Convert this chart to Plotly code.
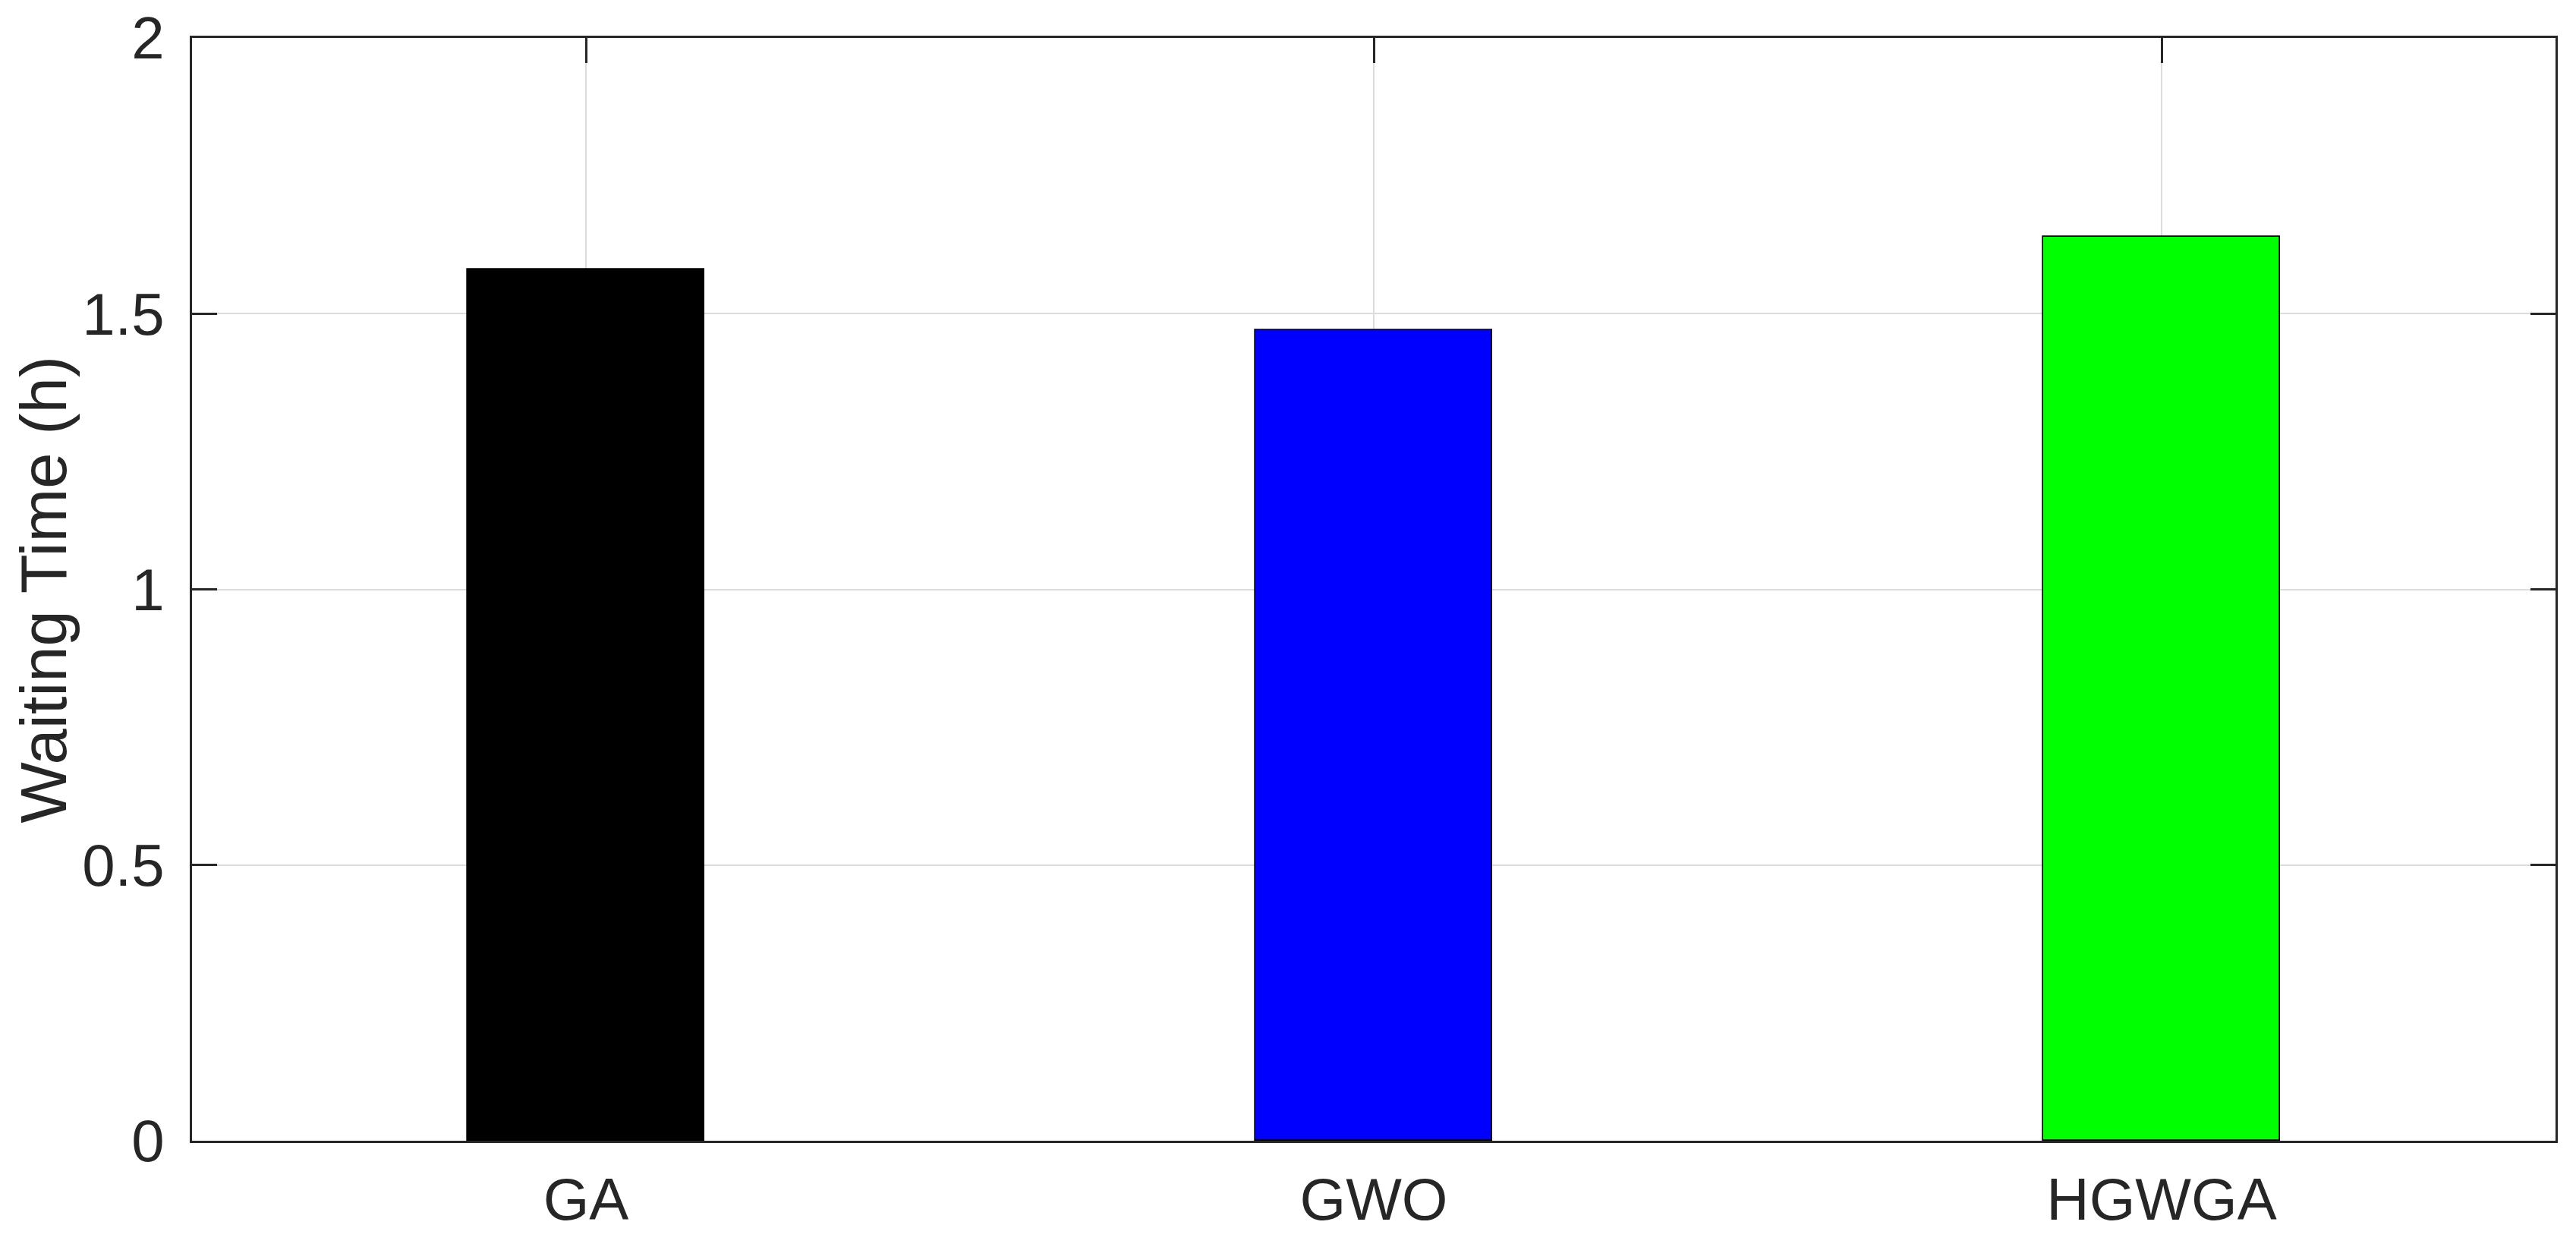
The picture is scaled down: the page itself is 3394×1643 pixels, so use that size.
import plotly.graph_objects as go

categories = ["GA", "GWO", "HGWGA"]
waiting_time = [1.58, 1.47, 1.64]
bar_colors = ["#000000", "#0000ff", "#00ff00"]
y_ticks = [0, 0.5, 1, 1.5, 2]
y_tick_text = ["0", "0.5", "1", "1.5", "2"]

# page has an 8px body margin, so the figure is shifted by 8px
OFF = 8
W, H = 3394 - 2 * OFF, 1643 - 2 * OFF
ML, MT = 253 - OFF, 50 - OFF
MR = (OFF + W) - 3367
MB = (OFF + H) - 1503
axis_col = "#262626"
font_fam = "Liberation Sans, Arial, Helvetica, sans-serif"

fig = go.Figure()
fig.add_trace(go.Bar(
    x=categories, y=waiting_time, width=0.3,
    marker=dict(color=bar_colors, line=dict(color="#000000", width=1.7)),
    showlegend=False,
))

axis_common = dict(
    showline=True, linecolor=axis_col, linewidth=2.5, mirror="ticks",
    ticks="inside", ticklen=33, tickwidth=2.5, tickcolor=axis_col,
    showgrid=True, gridcolor="#dcdcdc", gridwidth=1.6,
    zeroline=False, layer="below traces", ticklabeloverflow="allow",
    automargin=False,
    tickfont=dict(family=font_fam, size=78, color=axis_col),
)

fig.update_xaxes(range=[-0.5, 2.5], ticklabelstandoff=8, **axis_common)
fig.update_yaxes(range=[0, 2], tickvals=y_ticks, ticktext=y_tick_text,
                 ticklabelstandoff=18, **axis_common)

plot_w = W - ML - MR
fig.add_annotation(
    text="Waiting Time (h)", textangle=-90, showarrow=False,
    xref="paper", yref="paper", x=(57 - OFF - ML) / plot_w, y=0.5,
    xanchor="center", yanchor="middle",
    font=dict(family=font_fam, size=85, color=axis_col),
)

fig.update_layout(
    width=W, height=H, autosize=False,
    margin=dict(l=ML, r=MR, t=MT, b=MB, pad=0, autoexpand=False),
    paper_bgcolor="white", plot_bgcolor="white",
    bargap=0,
)

fig.write_html("out.html")
